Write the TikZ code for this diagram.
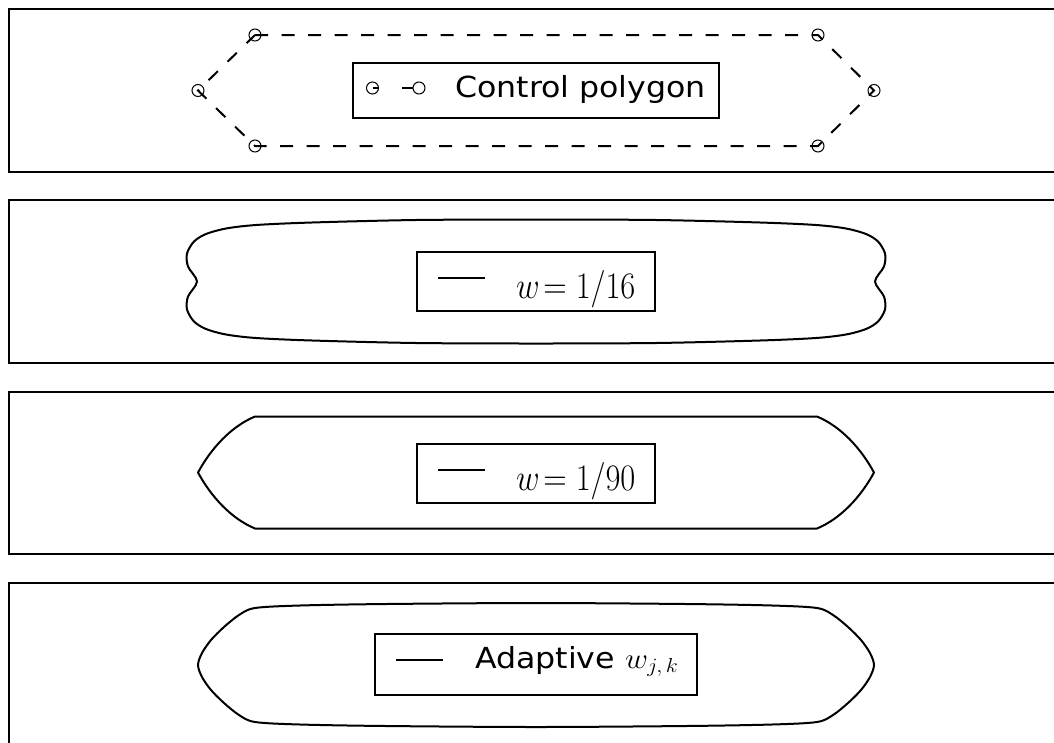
\RequirePackage{fix-cm}
\documentclass[tikz,border=0pt]{standalone}
\usepackage{graphicx}
\usepackage{fontspec}
\newfontfamily\dejavu{DejaVu Sans}
\begin{document}
\begin{tikzpicture}[x=1pt,y=-1pt,
  panel/.style={line width=1.8pt},
  curve/.style={line width=2pt, line join=round},
  ctrl/.style={line width=2pt, dash pattern=on 13pt off 13.5pt},
  marker/.style={circle, draw, line width=1pt, minimum size=12pt, inner sep=0pt},
  legbox/.style={draw, line width=1.5pt, fill=white, inner sep=0pt},
  legtxt/.style={anchor=base west, inner sep=0pt, font=\fontsize{29}{35}\selectfont\dejavu},
  mathtxt/.style={anchor=base west, inner sep=0pt, font=\fontsize{32.5}{38}\selectfont},
  handle/.style={line width=2pt}]
\useasboundingbox (0,0) rectangle (1054,742);
% panels
\begin{scope}
\clip (0,0) rectangle (1054,742);
\draw[panel] (9,9) rectangle (1070,172);
\draw[panel] (9,200) rectangle (1070,363);
\draw[panel] (9,392) rectangle (1070,554);
\draw[panel] (9,583) rectangle (1070,760);
\end{scope}
% panel 1: control polygon
\coordinate (p1) at (255,35);
\coordinate (p2) at (818,35);
\coordinate (p3) at (874,90.5);
\coordinate (p4) at (818,146);
\coordinate (p5) at (255,146);
\coordinate (p6) at (198,90.5);
\draw[ctrl] (p1) -- (p2) -- (p3) -- (p4) -- (p5) -- (p6) -- cycle;
\foreach \i in {1,...,6} \node[marker] (m\i) at (p\i) {};
% panel 2
\begin{scope}[shift={(536,281.5)}]
\draw[curve] plot[smooth cycle] coordinates {
 (0,-62) (120,-61.5) (224,-59) (280,-56.5) (310,-53) (330,-47.5) (342,-40) (349,-28) (348,-15) (339,0)
 (348,15) (349,28) (342,40) (330,47.5) (310,53) (280,56.5) (224,59) (120,61.5) (0,62)
 (-120,61.5) (-224,59) (-280,56.5) (-310,53) (-330,47.5) (-342,40) (-349,28) (-348,15) (-339,0)
 (-348,-15) (-349,-28) (-342,-40) (-330,-47.5) (-310,-53) (-280,-56.5) (-224,-59) (-120,-61.5)};
\end{scope}
% panel 3
\begin{scope}[shift={(536,472.5)}]
\draw[curve] (-281,-56) -- (281,-56) .. controls (305,-46) and (325,-24) .. (338,0)
 .. controls (325,24) and (305,46) .. (281,56) -- (-281,56)
 .. controls (-305,46) and (-325,24) .. (-338,0) .. controls (-325,-24) and (-305,-46) .. cycle;
\end{scope}
% panel 4
\begin{scope}[shift={(536,665)}]
\draw[curve] plot[smooth cycle] coordinates {
 (0,-62) (150,-61) (236,-59.5) (281,-57) (297,-50) (312,-38) (325,-25) (334,-12) (338,0)
 (334,12) (325,25) (312,38) (297,50) (281,57) (236,59.5) (150,61) (0,62)
 (-150,61) (-236,59.5) (-281,57) (-297,50) (-312,38) (-325,25) (-334,12) (-338,0)
 (-334,-12) (-325,-25) (-312,-38) (-297,-50) (-281,-57) (-236,-59.5) (-150,-61)};
\end{scope}
% legends
\node[legbox, minimum width=366pt, minimum height=55pt] (l1) at (536,90.5) {};
\node[legbox, minimum width=238pt, minimum height=59pt] (l2) at (536,281.5) {};
\node[legbox, minimum width=238pt, minimum height=59pt] (l3) at (536,473.5) {};
\node[legbox, minimum width=322pt, minimum height=61pt] (l4) at (536,664.5) {};
% legend 1 handle
\node[marker] (h1a) at (372.5,88) {};
\node[marker] (h1b) at (419,88) {};
\coordinate (h1c) at (378,88);
\coordinate (h1d) at (402,88);
\draw[handle] (h1a.center) -- (h1c);
\draw[handle] (h1d) -- (h1b.west);
\node[legtxt] (t1) at (455,97.5) {\scalebox{1.09}[1]{Control polygon}};
% legend 2
\coordinate (h2a) at (438,278); \coordinate (h2b) at (485,278);
\draw[handle] (h2a) -- (h2b);
\node[mathtxt] (t2) at (516,298.5) {\scalebox{1}[1.15]{$w\!=1/16$}};
% legend 3
\coordinate (h3a) at (438,470); \coordinate (h3b) at (485,470);
\draw[handle] (h3a) -- (h3b);
\node[mathtxt] (t3) at (516,490.5) {\scalebox{1}[1.15]{$w\!=1/90$}};
% legend 4
\coordinate (h4a) at (396,659.5); \coordinate (h4b) at (443,659.5);
\draw[handle] (h4a) -- (h4b);
\node[legtxt] (t4) at (475,668.5) {\scalebox{1.09}[1]{Adaptive $w_{j,\,k}$}};
\end{tikzpicture}
\end{document}
